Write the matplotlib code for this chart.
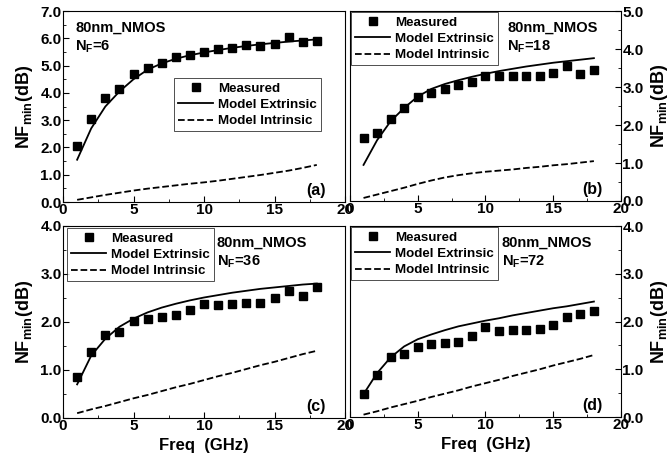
import matplotlib
matplotlib.use("Agg")
import matplotlib.pyplot as plt
from matplotlib.ticker import MultipleLocator, FormatStrFormatter

plt.rcParams['font.family'] = ['Liberation Sans', 'DejaVu Sans']
plt.rcParams['font.weight'] = 'bold'

freq = list(range(1, 19))

# panel (a) NF=6
meas_a = [2.05, 3.05, 3.8, 4.15, 4.7, 4.9, 5.1, 5.3, 5.4, 5.5, 5.6, 5.65, 5.75, 5.7, 5.8, 6.05, 5.85, 5.9]
ext_a = [1.55, 2.7, 3.5, 4.05, 4.5, 4.85, 5.08, 5.25, 5.38, 5.48, 5.57, 5.65, 5.72, 5.78, 5.83, 5.88, 5.92, 5.96]
int_a = [0.08, 0.17, 0.26, 0.34, 0.42, 0.49, 0.55, 0.61, 0.67, 0.72, 0.78, 0.85, 0.92, 0.99, 1.07, 1.15, 1.25, 1.36]

# panel (b) NF=18
meas_b = [1.65, 1.8, 2.15, 2.45, 2.75, 2.85, 2.95, 3.05, 3.12, 3.28, 3.28, 3.3, 3.3, 3.28, 3.38, 3.55, 3.35, 3.45]
ext_b = [0.95, 1.6, 2.1, 2.45, 2.75, 2.95, 3.08, 3.18, 3.27, 3.35, 3.42, 3.48, 3.54, 3.59, 3.64, 3.68, 3.72, 3.76]
int_b = [0.08, 0.17, 0.26, 0.35, 0.45, 0.54, 0.62, 0.68, 0.73, 0.77, 0.8, 0.83, 0.87, 0.9, 0.94, 0.97, 1.01, 1.05]

# panel (c) NF=36
meas_c = [0.85, 1.38, 1.72, 1.8, 2.03, 2.07, 2.1, 2.15, 2.25, 2.38, 2.35, 2.38, 2.4, 2.4, 2.5, 2.65, 2.55, 2.72]
ext_c = [0.7, 1.3, 1.65, 1.9, 2.07, 2.2, 2.3, 2.38, 2.45, 2.51, 2.56, 2.61, 2.65, 2.69, 2.72, 2.75, 2.78, 2.8]
int_c = [0.1, 0.18, 0.25, 0.33, 0.41, 0.48, 0.56, 0.64, 0.71, 0.79, 0.87, 0.94, 1.02, 1.1, 1.17, 1.25, 1.33, 1.4]

# panel (d) NF=72
meas_d = [0.48, 0.88, 1.25, 1.32, 1.47, 1.52, 1.55, 1.57, 1.7, 1.88, 1.8, 1.83, 1.83, 1.85, 1.93, 2.1, 2.15, 2.23]
ext_d = [0.48, 0.92, 1.25, 1.48, 1.63, 1.73, 1.82, 1.9, 1.96, 2.02, 2.07, 2.13, 2.18, 2.23, 2.28, 2.32, 2.37, 2.42]
int_d = [0.05, 0.12, 0.2, 0.27, 0.34, 0.42, 0.49, 0.56, 0.64, 0.71, 0.78, 0.86, 0.93, 1.0, 1.08, 1.15, 1.22, 1.3]

fig = plt.figure(figsize=(6.72, 4.61), dpi=100)

panels = [
    # rect, meas, ext, int, ymax, side, tag, nf, legend anchor (loc, xy), text pos, xlabel
    ([0.0938, 0.5618, 0.4196, 0.4143], meas_a, ext_a, int_a, 7.0, 'left', '(a)', '6',
     ('upper right', (0.92, 0.655)), (0.043, 0.95), False),
    ([0.5208, 0.5640, 0.4033, 0.4120], meas_b, ext_b, int_b, 5.0, 'right', '(b)', '18',
     ('upper left', (0.0, 1.0)), (0.58, 0.95), False),
    ([0.0938, 0.0933, 0.4196, 0.4165], meas_c, ext_c, int_c, 4.0, 'left', '(c)', '36',
     ('upper left', (0.01, 0.995)), (0.545, 0.95), True),
    ([0.5208, 0.0954, 0.4033, 0.4140], meas_d, ext_d, int_d, 4.0, 'right', '(d)', '72',
     ('upper left', (0.0, 1.0)), (0.56, 0.95), True),
]

for rect, meas, ext, intr, ymax, side, tag, nf, leg_at, txtpos, xlab in panels:
    ax = fig.add_axes(rect)
    ax.plot(freq, meas, 's', color='black', markersize=6.3, label='Measured')
    ax.plot(freq, ext, '-', color='black', linewidth=1.3, label='Model Extrinsic')
    ax.plot(freq, intr, '--', color='black', linewidth=1.3, label='Model Intrinsic')
    ax.set_xlim(0, 20)
    ax.set_ylim(0, ymax)
    ax.xaxis.set_major_locator(MultipleLocator(5))
    ax.xaxis.set_minor_locator(MultipleLocator(2.5))
    ax.yaxis.set_major_locator(MultipleLocator(1.0))
    ax.yaxis.set_minor_locator(MultipleLocator(0.5))
    ax.yaxis.set_major_formatter(FormatStrFormatter('%.1f'))
    ax.tick_params(which='both', direction='in', labelsize=11, pad=1)
    ax.tick_params(which='major', length=4)
    ax.tick_params(which='minor', length=2)
    if side == 'right':
        ax.yaxis.tick_right()
        ax.yaxis.set_label_position('right')
    ax.set_ylabel('NF$_{\\mathregular{min}}$(dB)', fontsize=13, fontweight='bold', labelpad=4)
    if xlab:
        ax.set_xlabel('Freq  (GHz)', fontsize=12, fontweight='bold', labelpad=3)
    leg = ax.legend(loc=leg_at[0], bbox_to_anchor=leg_at[1], fontsize=9.6, frameon=True,
                    fancybox=False, handlelength=2.6, handletextpad=0.4, numpoints=1,
                    borderpad=0.3, labelspacing=0.3, borderaxespad=0.1)
    leg.get_frame().set_edgecolor('black')
    leg.get_frame().set_linewidth(0.6)
    ax.text(txtpos[0], txtpos[1], '80nm_NMOS\nN$_{\\mathregular{F}}$=' + nf,
            transform=ax.transAxes, fontsize=10.5, fontweight='bold',
            va='top', ha='left', linespacing=1.3)
    ax.text(0.93, 0.02, tag, transform=ax.transAxes, fontsize=11.5, fontweight='bold',
            ha='right', va='bottom')

fig.savefig('out.png', dpi=100)
